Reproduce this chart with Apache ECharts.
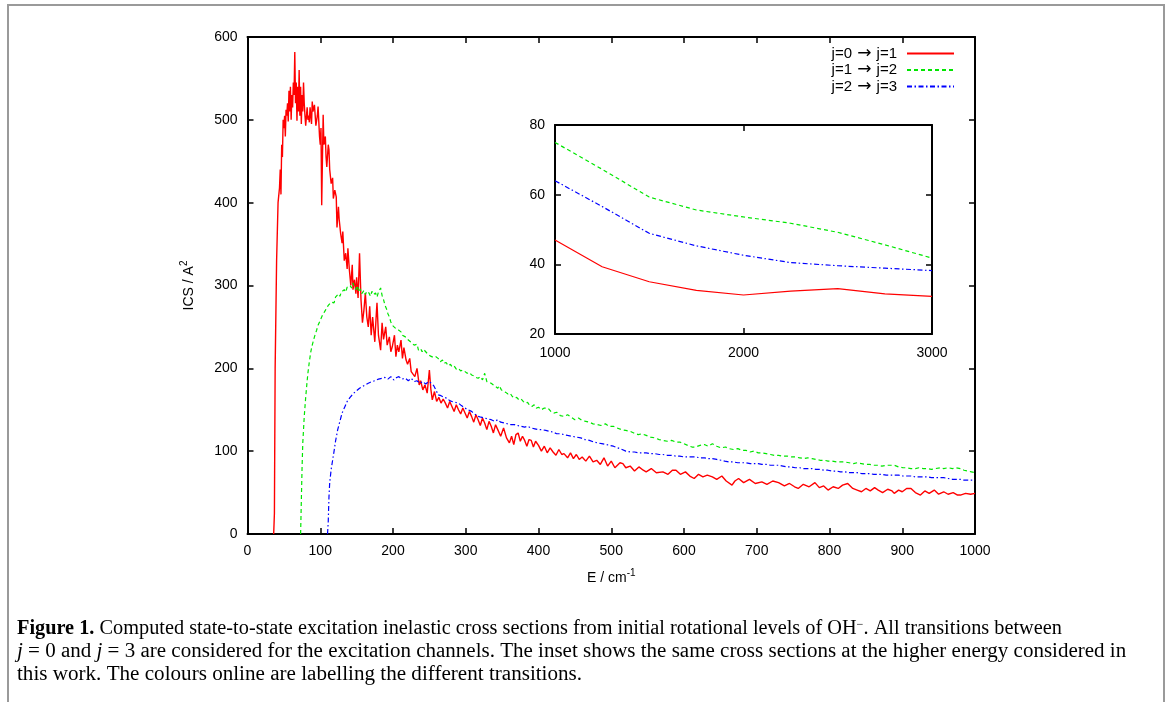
<!DOCTYPE html>
<html>
<head>
<meta charset="utf-8">
<script src="https://cdn.jsdelivr.net/npm/echarts@6/dist/echarts.min.js"></script>
<style>
  html, body { margin: 0; padding: 0; background: #fff; }
  #chart { width: 1171px; height: 702px; }
</style>
</head>
<body>
<div id="chart"></div>
<script>
// legend names
const seriesNames = ["j=0 \u2192 j=1", "j=1 \u2192 j=2", "j=2 \u2192 j=3"];

// main panel: [E (cm-1), ICS (A^2)]
const red = [
  [36,0],[37,25],[38,200],[40,330],[42,400],[44,418],[45,440],[46,410],[47,470],[48,455],[49,500],[50,490],
  [51,505],[52,480],[53,512],[54,505],[55,520],[56,498],[57,535],[58,510],[59,540],[60,500],[61,530],[62,515],
  [63,545],[64,530],[65,582],[66,520],[67,545],[68,499],[69,540],[70,510],[71,560],[72,505],[73,540],[74,495],
  [75,530],[76,510],[77,545],[78,520],[79,505],[80,493],[82,515],[83,500],[84,505],[85,497],[86,515],[88,495],
  [89,522],[90,510],[92,518],[94,493],[96,505],[97,516],[99,480],[100,470],[101,490],[102,397],[104,506],[105,470],
  [107,480],[108,455],[109,443],[111,470],[112,464],[113,440],[115,423],[117,430],[118,405],[120,415],[122,407],
  [123,370],[125,395],[126,380],[128,363],[130,351],[131,365],[133,330],[135,339],[137,320],[138,345],[140,319],
  [142,300],[144,325],[145,295],[147,307],[149,290],[150,310],[152,285],[154,339],[156,283],[158,255],[160,270],
  [162,291],[164,262],[166,250],[168,275],[170,240],[172,262],[175,232],[177,265],[178,279],[180,240],[183,222],
  [185,255],[187,235],[190,250],[192,228],[195,238],[197,220],[199,226],[202,240],[204,214],[206,228],[208,220],
  [211,234],[213,212],[215,225],[218,210],[220,205],[223,212],[225,196],[227,198],[230,190],[233,200],[236,180],
  [238,185],[241,174],[244,180],[247,170],[250,198],[252,175],[254,162],[257,172],[260,160],[263,165],[266,158],
  [269,163],[272,158],[275,152],[278,160],[281,154],[284,148],[287,156],[290,150],[293,145],[296,152],[299,146],
  [302,140],[305,148],[308,142],[311,135],[314,144],[317,138],[320,131],[323,140],[326,134],[329,126],[332,136],
  [335,130],[338,122],[341,132],[344,126],[348,118],[352,128],[356,116],[360,110],[363,118],[366,108],[369,120],
  [372,122],[375,112],[378,118],[381,113],[384,106],[387,114],[390,113],[393,105],[396,112],[400,107],[404,100],
  [408,106],[412,98],[416,104],[420,99],[424,95],[428,102],[432,96],[435,97],[440,92],[444,98],[448,91],[452,96],
  [456,90],[460,93],[465,88],[470,94],[475,87],[480,89],[485,84],[490,92],[495,82],[500,88],[505,80],[507,79],
  [512,86],[516,85],[520,80],[526,82],[532,76],[538,81],[544,77],[548,75],[555,79],[562,74],[571,75],[578,72],
  [584,77],[589,77],[595,72],[602,75],[608,70],[614,67],[620,72],[626,69],[632,71],[639,69],[645,66],[652,70],
  [658,64],[666,59],[670,64],[675,67],[682,62],[690,66],[698,61],[707,63],[714,60],[722,64],[730,62],[738,58],
  [745,61],[752,57],[757,55],[764,60],[772,57],[780,62],[786,56],[792,58],[798,53],[805,57],[812,55],[818,59],
  [825,61],[832,55],[838,53],[844,51],[850,55],[856,52],[862,56],[867,53],[873,50],[880,54],[886,52],[889,49],
  [895,53],[900,51],[906,55],[912,55],[918,50],[925,47],[931,52],[937,49],[944,53],[950,48],[957,51],[963,48],
  [970,50],[976,47],[980,47],[987,49],[994,48],[1000,49]
];

const green = [
  [73,0],[74,40],[75,80],[76,110],[78,142],[80,165],[82,185],[83,194],[85,208],[87,220],[89,228],[92,238],
  [95,246],[97,252],[99,256],[101,258],[103,264],[105,266],[107,270],[109,268],[111,276],[113,274],[115,280],
  [117,282],[119,279],[121,286],[123,284],[125,290],[127,287],[129,292],[131,291],[133,295],[135,292],[137,298],
  [139,296],[141,300],[143,297],[145,303],[147,298],[149,295],[151,300],[153,292],[155,296],[157,290],[160,294],
  [162,289],[164,293],[167,291],[169,287],[171,293],[173,289],[176,291],[178,286],[180,292],[182,290],[183,297],
  [185,288],[187,283],[189,276],[191,272],[193,266],[195,262],[197,256],[199,252],[201,254],[204,248],[206,250],
  [208,246],[211,244],[213,240],[215,242],[217,238],[220,235],[222,236],[224,232],[226,233],[229,228],[231,226],
  [233,229],[235,222],[238,224],[240,220],[242,223],[244,222],[247,218],[249,219],[251,215],[253,216],[256,213],
  [259,214],[262,212],[265,208],[268,210],[270,206],[273,207],[276,203],[279,205],[281,202],[284,203],[287,199],
  [290,200],[293,197],[296,198],[299,196],[302,194],[305,195],[308,192],[311,191],[314,189],[317,188],[320,190],
  [323,186],[326,194],[329,184],[332,183],[335,182],[338,180],[341,178],[344,176],[346,179],[349,174],[352,172],
  [355,171],[358,169],[361,170],[364,166],[367,164],[370,165],[373,162],[376,163],[379,160],[382,158],[385,159],
  [388,155],[391,154],[394,156],[397,152],[400,153],[404,150],[408,152],[413,152],[417,148],[421,146],[425,147],
  [430,143],[435,142],[440,144],[445,141],[450,138],[455,140],[460,137],[465,136],[470,135],[475,133],[481,132],
  [486,131],[492,133],[497,130],[503,130],[508,128],[514,126],[520,125],[526,124],[531,122],[537,120],[542,121],
  [548,119],[554,117],[560,116],[566,114],[571,113],[577,112],[583,113],[589,111],[594,111],[600,109],[605,107],
  [611,105],[616,105],[622,107],[628,108],[633,106],[639,109],[645,106],[651,104],[657,105],[662,103],[668,102],
  [674,103],[680,101],[685,101],[691,99],[696,100],[702,98],[707,98],[713,97],[719,96],[724,95],[730,95],
  [736,94],[742,94],[748,93],[753,93],[759,92],[765,91],[770,92],[776,91],[782,90],[787,89],[793,89],[798,88],
  [804,88],[810,87],[815,87],[821,87],[827,86],[833,85],[838,86],[844,85],[850,84],[855,84],[861,83],[867,83],
  [872,82],[878,83],[884,83],[889,83],[895,81],[901,80],[906,80],[912,79],[918,79],[923,80],[929,79],[935,79],
  [940,78],[946,79],[952,80],[957,79],[963,80],[969,79],[974,80],[980,79],[985,77],[990,76],[995,75],[1000,74]
];

const blue = [
  [110,0],[111,15],[112,45],[113,62],[115,78],[117,89],[119,100],[121,112],[124,126],[127,136],[130,146],
  [134,154],[137,160],[141,165],[146,170],[150,173],[154,176],[158,178],[162,180],[166,182],[171,184],[175,185],
  [180,187],[185,188],[189,189],[193,187],[197,190],[201,186],[205,189],[208,190],[212,187],[217,188],[221,185],
  [225,188],[229,184],[233,185],[237,182],[241,184],[245,181],[249,184],[253,182],[256,179],[258,178],[260,172],
  [262,168],[266,167],[270,165],[274,164],[278,161],[281,160],[285,159],[290,158],[294,155],[299,152],[303,150],
  [308,148],[312,145],[317,142],[321,141],[326,140],[330,139],[335,138],[340,136],[344,138],[348,135],[353,134],
  [358,133],[362,132],[367,132],[371,131],[376,130],[381,129],[385,130],[390,128],[395,127],[400,126],[405,126],
  [410,125],[415,124],[420,123],[425,121],[430,121],[435,120],[440,119],[446,118],[452,117],[458,116],[464,114],
  [470,113],[476,111],[481,110],[487,109],[493,108],[498,107],[503,106],[509,104],[515,102],[520,100],[526,99],
  [532,99],[538,98],[543,98],[548,98],[554,97],[560,97],[566,96],[571,96],[577,95],[583,95],[589,94],[594,94],
  [600,93],[606,93],[611,93],[616,93],[622,92],[628,92],[633,91],[639,91],[645,90],[651,89],[656,88],[662,87],
  [668,87],[674,86],[679,86],[685,86],[691,85],[696,85],[702,85],[707,84],[713,84],[719,83],[724,83],[730,83],
  [736,82],[742,81],[747,81],[753,80],[759,80],[764,79],[770,79],[776,79],[781,78],[787,78],[793,77],[798,77],
  [804,76],[810,76],[815,75],[821,75],[827,74],[832,74],[838,74],[844,73],[849,73],[855,73],[861,72],[867,72],
  [872,72],[878,71],[884,71],[889,71],[895,71],[901,70],[906,70],[912,70],[918,69],[923,69],[929,69],[935,69],
  [940,68],[946,68],[952,68],[957,68],[963,67],[969,66],[974,66],[980,66],[985,65],[990,65],[995,65],[1000,65]
];

// inset: higher energies
const insetE = [1000, 1250, 1500, 1750, 2000, 2250, 2500, 2750, 3000];
const insetRed = [47.0, 39.3, 35.0, 32.5, 31.2, 32.3, 33.0, 31.5, 30.8];
const insetGreen = [75.0, 67.3, 59.3, 55.6, 53.6, 51.8, 49.2, 45.6, 41.8];
const insetBlue = [64.0, 56.6, 48.9, 45.3, 42.6, 40.5, 39.6, 38.9, 38.2];

const colors = ["#ff0000", "#00e600", "#0000ff"];
const widths = [1.4, 1.2, 1.2];
const dashes = ["solid", [4, 3], [5, 2.5, 1.5, 2.5]];

const captionLines = [
  "{b|Figure 1.} Computed state-to-state excitation inelastic cross sections from initial rotational levels of OH{sup|\u2212}. All transitions between",
  "{i|j} = 0 and {i|j} = 3 are considered for the excitation channels. The inset shows the same cross sections at the higher energy considered in",
  "this work. The colours online are labelling the different transitions."
];
const captionStretch = [1.015, 1.05, 1.055];

const sans = "Liberation Sans";
const serif = "Liberation Serif";
const capSize = 20;

const chart = echarts.init(document.getElementById("chart"));

function axisBase(extra) {
  return Object.assign({
    type: "value",
    axisLine: { show: true, onZero: false, lineStyle: { color: "#000", width: 2 } },
    axisTick: { show: true, inside: true, length: 6, lineStyle: { color: "#000", width: 1.5 } },
    splitLine: { show: false },
    axisLabel: { color: "#000", fontFamily: sans, fontSize: 14, margin: 10, formatter: v => String(v) }
  }, extra);
}

const pairs = (xs, ys) => xs.map((x, i) => [x, ys[i]]);
const mainData = [red, green, blue];
const insetData = [insetRed, insetGreen, insetBlue];

const series = [];
mainData.forEach((d, i) => {
  series.push({
    name: seriesNames[i], type: "line", xAxisIndex: 0, yAxisIndex: 0,
    data: d, symbol: "none", showSymbol: false,
    lineStyle: { color: colors[i], width: widths[i], type: dashes[i] },
    itemStyle: { color: colors[i] }
  });
});
insetData.forEach((d, i) => {
  series.push({
    name: "inset " + i, type: "line", xAxisIndex: 2, yAxisIndex: 2,
    data: pairs(insetE, d), symbol: "none", showSymbol: false,
    lineStyle: { color: colors[i], width: 1.2, type: dashes[i] }
  });
});

const supRich = { sup: { fontFamily: sans, fontSize: 10, lineHeight: 10, verticalAlign: "top", color: "#000" } };

const option = {
  animation: false,
  backgroundColor: "#fff",
  grid: [
    { left: 247.5, top: 37, width: 727.5, height: 497 },
    { left: 555, top: 125, width: 377, height: 209 }
  ],
  xAxis: [
    axisBase({ gridIndex: 0, position: "bottom", min: 0, max: 1000, interval: 100,
      name: "E / cm{sup|-1}", nameLocation: "middle", nameGap: 34,
      nameTextStyle: { color: "#000", fontFamily: sans, fontSize: 14, lineHeight: 20, rich: supRich } }),
    axisBase({ gridIndex: 0, position: "top", min: 0, max: 1000, interval: 100, axisLabel: { show: false } }),
    axisBase({ gridIndex: 1, position: "bottom", min: 1000, max: 3000, interval: 1000,
      axisLabel: { color: "#000", fontFamily: sans, fontSize: 14, margin: 12, formatter: v => String(v) } }),
    axisBase({ gridIndex: 1, position: "top", min: 1000, max: 3000, interval: 1000, axisLabel: { show: false } })
  ],
  yAxis: [
    axisBase({ gridIndex: 0, position: "left", min: 0, max: 600, interval: 100,
      name: "ICS / A{sup|2}", nameLocation: "middle", nameGap: 48, nameRotate: 90,
      nameTextStyle: { color: "#000", fontFamily: sans, fontSize: 14, lineHeight: 20, rich: supRich } }),
    axisBase({ gridIndex: 0, position: "right", min: 0, max: 600, interval: 100, axisLabel: { show: false } }),
    axisBase({ gridIndex: 1, position: "left", min: 20, max: 80, interval: 20 }),
    axisBase({ gridIndex: 1, position: "right", min: 20, max: 80, interval: 20, axisLabel: { show: false } })
  ],
  legend: {
    data: seriesNames,
    orient: "vertical",
    right: 211,
    top: 40,
    align: "right",
    itemWidth: 47,
    itemHeight: 12,
    itemGap: -0.5,
    itemStyle: { opacity: 0 },
    formatter: n => n.replace("\u2192", "{a|\u2192}"),
    textStyle: {
      color: "#000", fontFamily: sans, fontSize: 15, lineHeight: 16, padding: [0, 5, 0, 0],
      rich: { a: { fontFamily: "DejaVu Sans", fontSize: 17, lineHeight: 16, color: "#000", padding: [0, 1, 0, 1] } }
    }
  },
  graphic: [
    { type: "rect", silent: true, z: -1,
      shape: { x: 8, y: 5, width: 1156, height: 720 },
      style: { fill: "none", stroke: "#9a9a9a", lineWidth: 2 } }
  ].concat(captionLines.map((t, i) => ({
    type: "text", silent: true, x: 17, y: 629 + i * 23, scaleX: captionStretch[i],
    style: {
      text: t, fill: "#000", font: capSize + "px '" + serif + "'", verticalAlign: "middle",
      rich: {
        b: { fontFamily: serif, fontSize: capSize, fontWeight: "bold", fill: "#000" },
        i: { fontFamily: serif, fontSize: capSize, fontStyle: "italic", fill: "#000" },
        sup: { fontFamily: serif, fontSize: 12, lineHeight: 10, verticalAlign: "top", fill: "#000" }
      }
    }
  }))),
  series: series
};

chart.setOption(option);
</script>
</body>
</html>
